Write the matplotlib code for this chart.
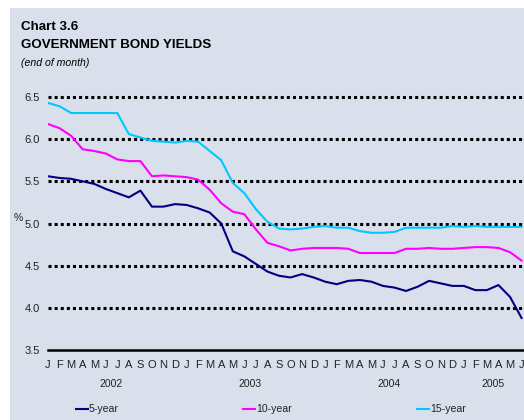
import matplotlib
matplotlib.use("Agg")
import matplotlib.pyplot as plt
from matplotlib.lines import Line2D
from matplotlib.patches import Rectangle

plt.rcParams["font.family"] = ["Liberation Sans", "DejaVu Sans"]

# monthly data, Jan 2002 - Jun 2005
months = ["J", "F", "M", "A", "M", "J", "J", "A", "S", "O", "N", "D"]
years = ["2002", "2003", "2004", "2005"]

yield_5 = [5.56, 5.54, 5.53, 5.50, 5.47, 5.41, 5.36, 5.31, 5.39, 5.20, 5.20, 5.23,
           5.22, 5.18, 5.13, 5.00, 4.67, 4.61, 4.52, 4.43, 4.38, 4.36, 4.40, 4.36,
           4.31, 4.28, 4.32, 4.33, 4.31, 4.26, 4.24, 4.20, 4.25, 4.32, 4.29, 4.26,
           4.26, 4.21, 4.21, 4.27, 4.13, 3.88]
yield_10 = [6.18, 6.13, 6.04, 5.88, 5.86, 5.83, 5.76, 5.74, 5.74, 5.56, 5.57, 5.56,
            5.55, 5.52, 5.40, 5.24, 5.14, 5.11, 4.93, 4.77, 4.73, 4.68, 4.70, 4.71,
            4.71, 4.71, 4.70, 4.65, 4.65, 4.65, 4.65, 4.70, 4.70, 4.71, 4.70, 4.70,
            4.71, 4.72, 4.72, 4.71, 4.66, 4.56]
yield_15 = [6.43, 6.39, 6.31, 6.31, 6.31, 6.31, 6.31, 6.06, 6.02, 5.98, 5.97, 5.96,
            5.98, 5.97, 5.86, 5.75, 5.48, 5.36, 5.17, 5.02, 4.94, 4.93, 4.94, 4.96,
            4.97, 4.95, 4.95, 4.91, 4.89, 4.89, 4.90, 4.95, 4.95, 4.95, 4.95, 4.97,
            4.96, 4.97, 4.96, 4.96, 4.96, 4.96]

labels = ["5-year", "10-year", "15-year"]
colors = ["#000080", "#FF00FF", "#00C8FF"]
bg = "#D9DFEB"
txt = "#222222"

W, H = 524, 420
fig = plt.figure(figsize=(W / 100, H / 100), dpi=100)

# light panel behind everything
fig.patches.append(Rectangle((10 / W, 0), 1, 1 - 8 / H, transform=fig.transFigure,
                             facecolor=bg, edgecolor="none", zorder=-5))

ax = fig.add_axes([48 / W, (H - 350) / H, (W - 48) / W, (350 - 97) / H])
ax.set_facecolor("none")

x = list(range(len(yield_5)))
for k in [4.0, 4.5, 5.0, 5.5, 6.0, 6.5]:
    ax.axhline(k, color="black", lw=2.2, ls=(0, (1, 1)), clip_on=False, zorder=1)

for ys, c in zip([yield_5, yield_10, yield_15], colors):
    ax.plot(x, ys, color=c, lw=1.5, zorder=3)

ax.set_xlim(0, (W - 48) / 11.55)
ax.set_ylim(3.5, 6.5)
for s in ax.spines.values():
    s.set_visible(False)
# solid base line at 3.5
ax.spines["bottom"].set_visible(True)
ax.spines["bottom"].set_linewidth(1.8)
ax.spines["bottom"].set_color("black")

ax.set_yticks([3.5, 4.0, 4.5, 5.0, 5.5, 6.0, 6.5])
ax.set_yticklabels(["3.5", "4.0", "4.5", "5.0", "5.5", "6.0", "6.5"], fontsize=8)
ax.tick_params(axis="y", length=0, pad=6, colors=txt)

ax.set_xticks(x)
ax.set_xticklabels([months[i % 12] for i in x], fontsize=8)
ax.tick_params(axis="x", length=0, pad=7.5, colors=txt)

for j, yr in enumerate(years):
    mid = 5.5 + 12 * j if j < 3 else 38.5
    ax.text(mid, -0.134, yr, fontsize=7.5, ha="center", va="center",
            transform=ax.get_xaxis_transform(), color=txt)

ax.text(-2.94, 5.07, "%", fontsize=7.5, ha="left", va="center", color=txt)

# titles
fig.text(21 / W, 1 - 27 / H, "Chart 3.6", fontsize=9.6, fontweight="bold", va="center")
fig.text(21 / W, 1 - 45 / H, "GOVERNMENT BOND YIELDS", fontsize=9.6, fontweight="bold",
         va="center")
fig.text(21 / W, 1 - 63 / H, "(end of month)", fontsize=7.6, style="italic", va="center")

# legend below the chart
leg_x = [76, 243, 417]
for lx, lab, c in zip(leg_x, labels, colors):
    fig.add_artist(Line2D([lx / W, (lx + 12) / W], [1 - 409 / H, 1 - 409 / H],
                          transform=fig.transFigure, color=c, lw=1.5))
    fig.text((lx + 13) / W, 1 - 409 / H, lab, fontsize=7.6, va="center", color=txt)

fig.savefig("out.png", dpi=100)
